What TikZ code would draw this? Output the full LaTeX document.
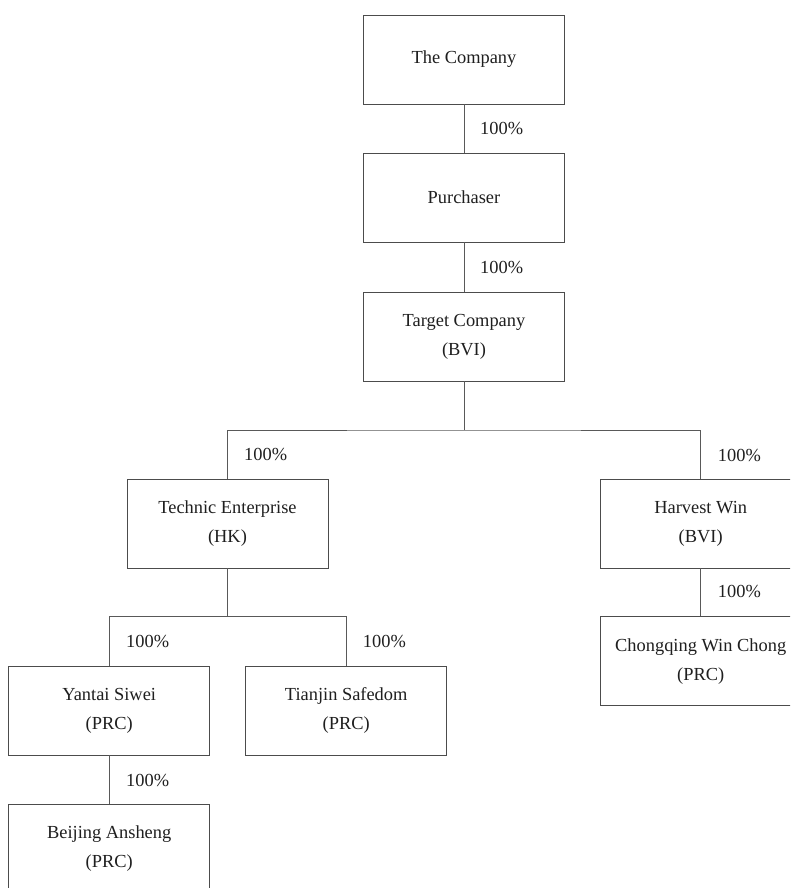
\documentclass[tikz,border=0pt]{standalone}
\usepackage{fontspec}
\setmainfont{Liberation Serif}
\begin{document}
\begin{tikzpicture}[x=1pt,y=-1pt,
  entity/.style={draw=black!70, line width=0.9pt, fill=white, minimum width=201pt, minimum height=89pt,
    inner sep=0pt, align=center, text=black!88, font=\fontsize{18.4}{29}\selectfont},
  pct/.style={anchor=west, inner sep=0pt, text=black!88, font=\fontsize{18.4}{22}\selectfont},
  link/.style={draw=black!65, line width=0.9pt}]
\useasboundingbox (0,0) rectangle (790,888);
\clip (0,0) rectangle (790,888);
% boxes
\node[entity] (comp) at (464,59.5) {The Company};
\node[entity] (purch) at (464,197.5) {Purchaser};
\node[entity] (target) at (464,336.5) {Target Company\\(BVI)};
\node[entity] (tech) at (227.5,523.5) {Technic Enterprise\\(HK)};
\node[entity] (harvest) at (700.7,523.5) {Harvest Win\\(BVI)};
\node[entity] (yantai) at (109.2,710.5) {Yantai Siwei\\(PRC)};
\node[entity] (tianjin) at (346.2,710.5) {Tianjin Safedom\\(PRC)};
\node[entity] (chong) at (700.7,661.2) {Chongqing Win Chong\\(PRC)};
\node[entity] (beijing) at (109.2,848.5) {Beijing Ansheng\\(PRC)};
% bus coordinates
\coordinate (bus1) at (464,430);
\coordinate (bus2) at (227.5,616.7);
% connectors
\draw[link] (comp) -- (purch);
\draw[link] (purch) -- (target);
\draw[link] (target) -- (bus1);
\draw[link] (tech.north) |- (bus1) -| (harvest.north);
\draw[link] (harvest) -- (chong);
\draw[link] (tech) -- (bus2);
\draw[link] (yantai.north) |- (bus2) -| (tianjin.north);
\draw[link] (yantai) -- (beijing);
% percentage labels
\node[pct] (p1) at (480,129) {100\%};
\node[pct] (p2) at (480,268) {100\%};
\node[pct] (p3) at (244,454) {100\%};
\node[pct] (p4) at (717.7,455) {100\%};
\node[pct] (p5) at (717.7,591.7) {100\%};
\node[pct] (p6) at (126,641.7) {100\%};
\node[pct] (p7) at (362.7,641.7) {100\%};
\node[pct] (p8) at (126,780) {100\%};
\end{tikzpicture}
\end{document}
